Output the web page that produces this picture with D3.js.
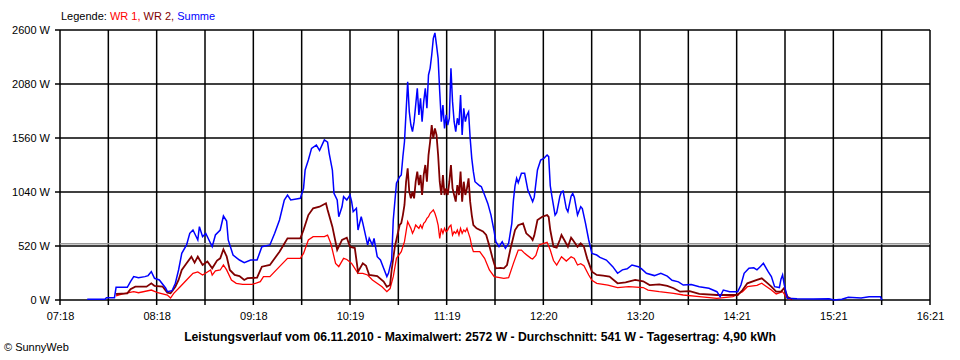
<!DOCTYPE html>
<html>
<head>
<meta charset="utf-8">
<script src="https://cdn.jsdelivr.net/npm/d3@7"></script>
<style>
  body { margin: 0; background: #fff; }
  text { font-family: "Liberation Sans", Arial, sans-serif; }
</style>
</head>
<body>
<div id="chart"></div>
<script>

// tick labels of the time axis (one every second grid line)
xLabels = ["07:18", "08:18", "09:18", "10:19", "11:19", "12:20", "13:20", "14:21", "15:21", "16:21"]
yTicks  = [0, 520, 1040, 1560, 2080, 2600]
averageW = 541

// WR 1 (red)
wr1 = [["07:53",39],["07:57",58],["08:04",80],["08:07",70],["08:15",96],["08:19",70],["08:25",48],["08:27",19],
  ["08:29",64],["08:33",128],["08:37",193],["08:41",257],["08:44",270],["08:47",241],["08:52",289],["08:53",240],
  ["08:55",280],["08:58",289],["09:00",337],["09:02",290],["09:05",193],["09:08",161],["09:12",150],["09:18",150],
  ["09:23",177],["09:25",225],["09:29",225],["09:35",321],["09:40",401],["09:48",401],["09:50",449],["09:53",578],
  ["09:56",610],["10:03",610],["10:05",625],["10:07",546],["10:10",353],["10:12",321],["10:15",401],["10:17",390],
  ["10:20",353],["10:24",257],["10:27",257],["10:30",241],["10:33",193],["10:39",128],["10:42",80],["10:44",110],
  ["10:46",225],["10:48",401],["10:51",465],["10:52",514],["10:53",562],["10:54",658],["10:55",754],["10:56",722],
  ["10:57",690],["10:58",642],["10:59",674],["11:00",722],["11:01",706],["11:02",690],["11:03",722],["11:04",690],
  ["11:05",738],["11:06",754],["11:07",786],["11:08",802],["11:09",835],["11:10",851],["11:11",867],["11:12",835],
  ["11:13",786],["11:14",722],["11:15",594],["11:16",690],["11:17",642],["11:18",690],["11:19",658],["11:20",674],
  ["11:21",706],["11:22",722],["11:23",626],["11:24",658],["11:25",642],["11:26",674],["11:27",626],["11:28",690],
  ["11:29",642],["11:30",674],["11:31",658],["11:32",690],["11:33",642],["11:34",594],["11:35",514],["11:36",465],
  ["11:40",465],["11:43",401],["11:46",289],["11:49",225],["11:55",209],["11:58",215],["12:01",353],["12:04",481],
  ["12:06",480],["12:08",449],["12:12",401],["12:13",395],["12:15",430],["12:17",530],["12:20",546],["12:22",555],
  ["12:24",481],["12:26",380],["12:28",337],["12:31",417],["12:34",375],["12:37",417],["12:39",400],["12:41",337],
  ["12:43",350],["12:45",330],["12:48",241],["12:50",190],["12:53",161],["13:00",144],["13:06",120],["13:13",128],
  ["13:22",120],["13:25",96],["13:32",80],["13:41",64],["13:47",48],["13:57",32],["14:08",16],["14:18",32],
  ["14:24",80],["14:27",128],["14:33",140],["14:36",161],["14:42",96],["14:45",58],["14:49",80],["14:52",16],["14:55",3]]

// WR 2 (dark red)
wr2 = [["07:53",58],["08:00",64],["08:02",103],["08:05",128],["08:12",128],["08:15",161],["08:17",135],["08:22",130],
  ["08:25",71],["08:27",64],["08:30",128],["08:32",193],["08:34",289],["08:37",353],["08:40",417],["08:42",360],
  ["08:44",417],["08:47",337],["08:50",370],["08:53",305],["08:56",380],["08:58",401],["09:00",488],["09:02",420],
  ["09:04",289],["09:07",241],["09:10",230],["09:13",193],["09:15",210],["09:21",215],["09:24",321],["09:29",337],
  ["09:35",465],["09:40",594],["09:48",594],["09:50",674],["09:53",818],["09:56",883],["10:00",898],["10:04",931],
  ["10:05",870],["10:08",706],["10:11",481],["10:14",578],["10:17",600],["10:19",513],["10:22",500],["10:24",273],
  ["10:27",353],["10:29",330],["10:31",241],["10:36",230],["10:40",177],["10:42",128],["10:44",145],["10:45",289],
  ["10:47",513],["10:50",722],["10:51",740],["10:52",818],["10:53",915],["10:54",1139],["10:55",1268],["10:56",1043],
  ["10:57",979],["10:58",1043],["10:59",979],["11:00",1139],["11:01",1236],["11:02",1107],["11:03",1204],["11:04",1011],
  ["11:05",1204],["11:06",1300],["11:07",1139],["11:08",1396],["11:09",1524],["11:10",1685],["11:11",1557],["11:12",1653],
  ["11:13",1589],["11:14",1396],["11:15",1139],["11:16",1011],["11:17",1204],["11:18",1011],["11:19",1075],["11:20",1011],
  ["11:21",1139],["11:22",1300],["11:23",1075],["11:24",1011],["11:25",947],["11:26",1107],["11:27",1011],["11:28",1236],
  ["11:29",947],["11:30",1139],["11:31",1011],["11:32",1075],["11:33",1172],["11:34",947],["11:35",818],["11:36",722],
  ["11:38",690],["11:42",660],["11:44",626],["11:46",520],["11:48",401],["11:49",350],["11:50",305],["11:53",310],
  ["11:55",305],["11:57",337],["11:59",481],["12:02",674],["12:04",720],["12:07",738],["12:09",642],["12:12",600],
  ["12:13",578],["12:14",620],["12:16",770],["12:19",802],["12:22",818],["12:23",800],["12:24",674],["12:26",513],
  ["12:28",505],["12:30",580],["12:31",626],["12:33",570],["12:35",513],["12:37",600],["12:38",580],["12:41",513],
  ["12:43",545],["12:45",513],["12:47",401],["12:50",273],["12:53",241],["12:57",235],["13:01",225],["13:06",161],
  ["13:11",170],["13:17",193],["13:22",180],["13:26",144],["13:32",150],["13:37",135],["13:41",113],["13:45",80],
  ["13:51",85],["13:57",58],["14:08",48],["14:21",48],["14:24",96],["14:27",161],["14:33",193],["14:36",209],
  ["14:39",170],["14:42",128],["14:45",80],["14:48",80],["14:50",115],["14:52",32],["14:55",5]]

// Summe (blue)
summe = [["07:35",7],["07:46",7],["07:47",22],["07:52",22],["07:53",122],["08:00",122],["08:02",177],["08:04",225],
  ["08:07",215],["08:11",225],["08:13",235],["08:15",273],["08:17",209],["08:20",193],["08:24",113],["08:25",80],
  ["08:28",90],["08:30",161],["08:32",289],["08:34",449],["08:37",530],["08:39",642],["08:41",674],["08:44",578],
  ["08:45",706],["08:47",610],["08:49",640],["08:53",513],["08:55",626],["08:58",674],["09:00",809],["09:02",760],
  ["09:03",578],["09:06",433],["09:10",385],["09:13",359],["09:17",385],["09:21",385],["09:24",513],["09:29",530],
  ["09:32",642],["09:35",770],["09:38",963],["09:40",1011],["09:42",963],["09:48",979],["09:50",1075],["09:51",1252],
  ["09:53",1348],["09:55",1460],["09:58",1492],["10:00",1440],["10:02",1508],["10:03",1541],["10:05",1520],["10:06",1412],
  ["10:08",1252],["10:09",1027],["10:11",963],["10:12",802],["10:14",898],["10:15",995],["10:17",963],["10:19",1011],
  ["10:20",950],["10:21",850],["10:23",883],["10:24",674],["10:26",802],["10:27",740],["10:30",530],["10:31",594],
  ["10:33",530],["10:34",594],["10:36",417],["10:38",385],["10:40",305],["10:42",225],["10:43",257],["10:45",385],
  ["10:46",770],["10:48",1124],["10:50",1188],["10:51",1204],["10:52",1380],["10:53",1524],["10:54",1813],["10:55",2102],
  ["10:56",1813],["10:57",1685],["10:58",1621],["10:59",1717],["11:00",1878],["11:01",2038],["11:02",1782],["11:03",1942],
  ["11:04",1717],["11:05",1910],["11:06",2038],["11:07",1846],["11:08",2167],["11:09",2231],["11:10",2359],["11:11",2520],
  ["11:12",2572],["11:13",2455],["11:14",2327],["11:15",2006],["11:16",1717],["11:17",1878],["11:18",1653],["11:19",1782],
  ["11:20",1685],["11:21",1750],["11:22",2231],["11:23",1910],["11:24",1717],["11:25",1621],["11:26",1750],["11:27",1685],
  ["11:28",1974],["11:29",1589],["11:30",1846],["11:31",1717],["11:32",1782],["11:33",1813],["11:34",1557],["11:35",1364],
  ["11:36",1236],["11:37",1139],["11:40",1100],["11:41",1091],["11:43",1011],["11:45",930],["11:47",818],["11:49",658],
  ["11:50",562],["11:52",513],["11:54",560],["11:56",498],["11:58",546],["12:00",738],["12:01",960],["12:02",1100],
  ["12:03",1172],["12:04",1130],["12:06",1220],["12:08",1220],["12:10",1059],["12:13",947],["12:14",990],["12:16",1252],
  ["12:18",1348],["12:20",1364],["12:22",1396],["12:23",1380],["12:24",1100],["12:25",1000],["12:27",818],["12:28",840],
  ["12:30",1000],["12:31",1043],["12:32",1050],["12:34",880],["12:35",850],["12:37",1000],["12:38",1027],["12:39",990],
  ["12:41",818],["12:43",898],["12:44",880],["12:46",738],["12:48",578],["12:50",449],["12:53",433],["12:55",410],
  ["12:59",385],["13:03",321],["13:06",257],["13:09",290],["13:12",300],["13:15",337],["13:19",321],["13:21",300],
  ["13:24",257],["13:29",235],["13:33",257],["13:37",230],["13:40",190],["13:44",175],["13:47",144],["13:52",150],
  ["13:57",128],["14:03",113],["14:08",80],["14:10",32],["14:12",96],["14:16",80],["14:21",80],["14:23",144],
  ["14:25",257],["14:28",305],["14:31",310],["14:33",290],["14:35",321],["14:37",353],["14:40",273],["14:42",225],
  ["14:44",128],["14:47",120],["14:48",200],["14:49",241],["14:50",150],["14:52",16],["14:58",12],["15:08",10],
  ["15:18",12],["15:21",0],["15:26",8],["15:30",26],["15:38",20],["15:43",32],["15:50",32],["15:51",0]]

var parseTime = d3.timeParse("%H:%M")

// set the dimensions and margins of the graph
margin = {top: 30, right: 30, bottom: 60, left: 60},
width  = 960 - margin.left - margin.right,
height = 360 - margin.top - margin.bottom;

var t0 = parseTime(xLabels[0]), t1 = parseTime(xLabels[xLabels.length - 1])
x = d3.scaleTime().domain([t0, t1]).range([0, width])
y = d3.scaleLinear().domain([0, 2600]).range([height, 0])

// 18 equal steps, a label on every second one
var step = (t1 - t0) / 18
var gridTimes = d3.range(19).map(function(i) { return new Date(+t0 + i * step) })

root = d3.select("#chart").append("svg")
  .attr("width", 960).attr("height", 360)
svg = root.append("g").attr("transform", "translate(" + margin.left + "," + margin.top + ")")

// legend
var legend = root.append("text").attr("x", 61).attr("y", 20).style("font-size", "11px")
legend.append("tspan").attr("fill", "#000").text("Legende: ")
legend.append("tspan").attr("fill", "#ff0000").text("WR 1, ")
legend.append("tspan").attr("fill", "#800000").text("WR 2, ")
legend.append("tspan").attr("fill", "#0000ff").text("Summe")

// grid
svg.selectAll(".vgrid").data(gridTimes).enter().append("line")
  .attr("x1", function(d) { return x(d) }).attr("x2", function(d) { return x(d) })
  .attr("y1", 0).attr("y2", height + 5)
  .attr("stroke", "#000").attr("stroke-width", 1.5)

svg.selectAll(".hgrid").data(yTicks).enter().append("line")
  .attr("x1", -5).attr("x2", width)
  .attr("y1", function(d) { return y(d) }).attr("y2", function(d) { return y(d) })
  .attr("stroke", "#000").attr("stroke-width", 1.5)

// average line
svg.append("line")
  .attr("x1", 0).attr("x2", width)
  .attr("y1", y(averageW)).attr("y2", y(averageW))
  .attr("stroke", "#999").attr("stroke-width", 1.5)

// axes (labels only, lines are drawn by the grid)
var yAxis = svg.append("g").call(d3.axisLeft(y).tickValues(yTicks).tickSize(5).tickPadding(5)
  .tickFormat(function(d) { return d + " W" }))
var xAxis = svg.append("g").attr("transform", "translate(0," + height + ")")
  .call(d3.axisBottom(x).tickValues(gridTimes).tickSize(5).tickPadding(7)
  .tickFormat(function(d, i) { return i % 2 ? "" : xLabels[i / 2] }))
svg.selectAll(".domain").remove()
svg.selectAll(".tick line").remove()
svg.selectAll(".tick text").style("font-family", "'Liberation Sans', Arial, sans-serif")
  .style("font-size", "11px").attr("fill", "#000")

// series
var line = d3.line()
  .x(function(d) { return x(parseTime(d[0])) })
  .y(function(d) { return y(d[1]) })

var series = [
  {data: wr1, color: "#ff0000", w: 1.3},
  {data: wr2, color: "#800000", w: 1.8},
  {data: summe, color: "#0000ff", w: 1.5}
]
series.forEach(function(s) {
  svg.append("path").datum(s.data)
    .attr("fill", "none")
    .attr("stroke", s.color)
    .attr("stroke-width", s.w)
    .attr("stroke-linejoin", "miter")
    .attr("d", line)
})

// title and copyright
root.append("text").attr("x", 480).attr("y", 341).attr("text-anchor", "middle")
  .style("font-size", "12.2px").style("font-weight", "bold")
  .text("Leistungsverlauf vom 06.11.2010 - Maximalwert: 2572 W - Durchschnitt: 541 W - Tagesertrag: 4,90 kWh")
root.append("text").attr("x", 4).attr("y", 351).style("font-size", "11px")
  .text("\u00a9 SunnyWeb")

</script>
</body>
</html>
